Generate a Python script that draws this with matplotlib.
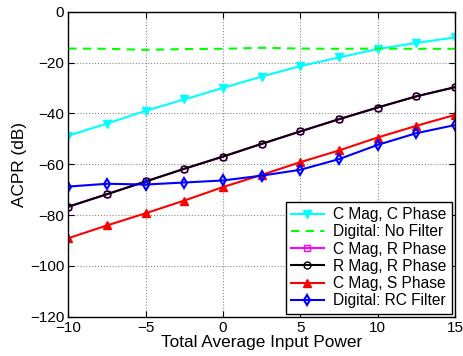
import matplotlib
matplotlib.use("Agg")
import matplotlib.pyplot as plt

x = [-10, -7.5, -5, -2.5, 0, 2.5, 5, 7.5, 10, 12.5, 15]
c_mag_c_phase = [-48.8, -44, -39, -34.5, -30, -25.5, -21.4, -18, -14.7, -12.3, -10.1]
digital_no_filter = [-14.5, -14.6, -15, -14.7, -14.6, -14.2, -14.5, -14.6, -14.5, -14.6, -14.6]
c_mag_r_phase = [-76.8, -71.8, -66.8, -61.8, -57, -52, -47.1, -42.3, -37.7, -33.3, -29.7]
r_mag_r_phase = [-76.7, -71.8, -66.8, -61.8, -57, -52, -47.1, -42.3, -37.7, -33.3, -29.7]
c_mag_s_phase = [-89.1, -84.1, -79.3, -74.3, -69, -64.2, -59.2, -54.6, -49.5, -44.9, -40.6]
digital_rc_filter = [-68.8, -67.7, -68, -67.2, -66.4, -64.5, -62.2, -58, -52.4, -47.8, -44.6]

xticks = [-10, -5, 0, 5, 10, 15]
yticks = [-120, -100, -80, -60, -40, -20, 0]

plt.rcParams['font.family'] = ['Liberation Sans', 'DejaVu Sans']

fig = plt.figure(figsize=(4.64, 3.56), dpi=100)
ax = fig.add_axes([68.3 / 464, (356 - 316.7) / 356, (455 - 68.3) / 464, (316.7 - 11.7) / 356])

lw = 1.5
ax.plot(x, c_mag_c_phase, color='cyan', marker='v', ms=6, lw=lw, label='C Mag, C Phase')
ax.plot(x, digital_no_filter, color='#00ff00', ls='--', lw=lw, label='Digital: No Filter', dashes=(4, 3))
ax.plot(x, c_mag_r_phase, color='magenta', marker='s', ms=4, lw=lw, mfc='none', label='C Mag, R Phase')
ax.plot(x, r_mag_r_phase, color='black', marker='o', ms=5, lw=lw, mfc='none', label='R Mag, R Phase')
ax.plot(x, c_mag_s_phase, color='red', marker='^', ms=6, lw=lw, label='C Mag, S Phase')
ax.plot(x, digital_rc_filter, color='blue', marker='d', ms=5.5, lw=lw, mfc='none', mew=1.5, label='Digital: RC Filter')

ax.set_xlim(-10, 15)
ax.set_ylim(-120, 0)
ax.set_xticks(xticks)
ax.set_yticks(yticks)
ax.set_xticklabels([str(v).replace('-', '\u2212') for v in xticks])
ax.set_yticklabels([str(v).replace('-', '\u2212') for v in yticks])
ax.grid(True, ls=':', color='#888888', lw=0.8)
ax.tick_params(direction='in', top=True, right=True, labelsize=11, length=4, pad=3)
for s in ax.spines.values():
    s.set_linewidth(1.0)
ax.set_xlabel('Total Average Input Power', fontsize=12.4, labelpad=0)
ax.set_ylabel('ACPR (dB)', fontsize=12.4, labelpad=2)

leg = ax.legend(loc='lower right', fontsize=11.2, fancybox=False, framealpha=1,
                edgecolor='black', borderpad=0.35, labelspacing=0.14,
                handlelength=2.1, handletextpad=0.6, borderaxespad=0.2)
leg.get_frame().set_linewidth(1.0)

fig.savefig('out.png', dpi=100)
